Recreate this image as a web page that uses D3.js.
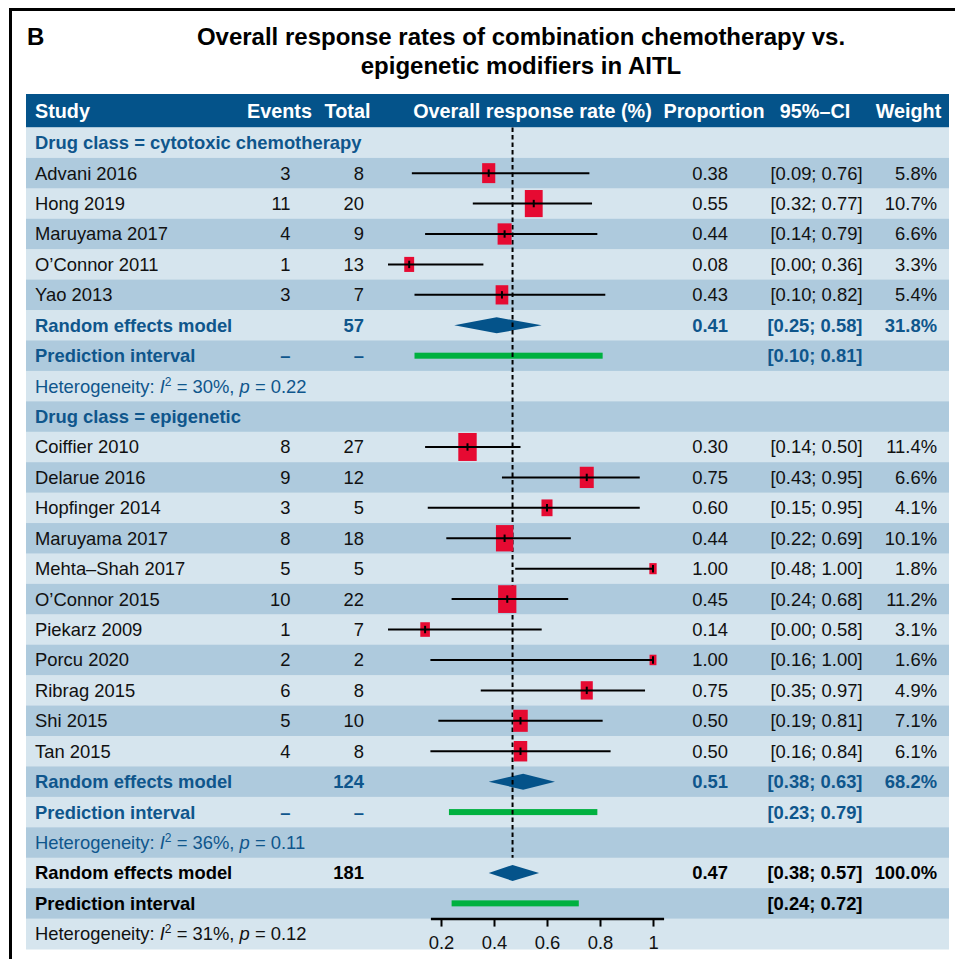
<!DOCTYPE html>
<html>
<head>
<meta charset="utf-8">
<script src="https://cdn.jsdelivr.net/npm/d3@7"></script>
<style>
  html, body { margin: 0; padding: 0; background: #fff; }
  svg { display: block; font-family: "Liberation Sans", Arial, Helvetica, sans-serif; }
</style>
</head>
<body>
<svg id="chart" width="955" height="959"></svg>
<script>
// ---- Study-level data: cytotoxic chemotherapy ----
const cytoStudies = ["Advani 2016", "Hong 2019", "Maruyama 2017", "O\u2019Connor 2011", "Yao 2013"];
const cytoEvents  = [3, 11, 4, 1, 3];
const cytoTotal   = [8, 20, 9, 13, 7];
const cytoProp    = [0.38, 0.55, 0.44, 0.08, 0.43];
const cytoLower   = [0.09, 0.32, 0.14, 0.00, 0.10];
const cytoUpper   = [0.76, 0.77, 0.79, 0.36, 0.82];
const cytoWeight  = [5.8, 10.7, 6.6, 3.3, 5.4];

// ---- Study-level data: epigenetic modifiers ----
const epiStudies = ["Coiffier 2010", "Delarue 2016", "Hopfinger 2014", "Maruyama 2017", "Mehta\u2013Shah 2017",
                    "O\u2019Connor 2015", "Piekarz 2009", "Porcu 2020", "Ribrag 2015", "Shi 2015", "Tan 2015"];
const epiEvents  = [8, 9, 3, 8, 5, 10, 1, 2, 6, 5, 4];
const epiTotal   = [27, 12, 5, 18, 5, 22, 7, 2, 8, 10, 8];
const epiProp    = [0.30, 0.75, 0.60, 0.44, 1.00, 0.45, 0.14, 1.00, 0.75, 0.50, 0.50];
const epiLower   = [0.14, 0.43, 0.15, 0.22, 0.48, 0.24, 0.00, 0.16, 0.35, 0.19, 0.16];
const epiUpper   = [0.50, 0.95, 0.95, 0.69, 1.00, 0.68, 0.58, 1.00, 0.97, 0.81, 0.84];
const epiWeight  = [11.4, 6.6, 4.1, 10.1, 1.8, 11.2, 3.1, 1.6, 4.9, 7.1, 6.1];

// ---- Subgroup random effects summaries ----
const groupNames      = ["cytotoxic chemotherapy", "epigenetic"];
const groupTotal      = [57, 124];
const groupProp       = [0.41, 0.51];
const groupLower      = [0.25, 0.38];
const groupUpper      = [0.58, 0.63];
const groupWeight     = [31.8, 68.2];
const groupPredLower  = [0.10, 0.23];
const groupPredUpper  = [0.81, 0.79];
const groupI2         = [30, 36];
const groupHetP       = [0.22, 0.11];

// ---- Overall random effects summary ----
const overallTotal     = [181];
const overallProp      = [0.47];
const overallCI        = [0.38, 0.57];
const overallWeight    = [100.0];
const overallPred      = [0.24, 0.72];
const overallI2        = [31];
const overallHetP      = [0.12];

// ---- Axis ----
const tickValues = [0.2, 0.4, 0.6, 0.8, 1];
const axisLimits = [0.16, 1.04];

// ---- Colours ----
const C = {
  header: "#04538a", light: "#d6e5ee", dark: "#aecadd",
  blue: "#0f568c", red: "#e60a32", green: "#00b140", diamond: "#04538a", ink: "#111"
};

// Build the row list in display order
const rows = [];
const studyBlocks = [
  {names: cytoStudies, ev: cytoEvents, n: cytoTotal, p: cytoProp, lo: cytoLower, hi: cytoUpper, w: cytoWeight},
  {names: epiStudies,  ev: epiEvents,  n: epiTotal,  p: epiProp,  lo: epiLower,  hi: epiUpper,  w: epiWeight}
];
studyBlocks.forEach((b, g) => {
  rows.push({type: "group", label: "Drug class = " + groupNames[g]});
  b.names.forEach((name, i) => rows.push({
    type: "study", label: name, events: b.ev[i], total: b.n[i],
    prop: b.p[i], lower: b.lo[i], upper: b.hi[i], weight: b.w[i]
  }));
  rows.push({type: "re", label: "Random effects model", total: groupTotal[g], prop: groupProp[g],
             lower: groupLower[g], upper: groupUpper[g], weight: groupWeight[g], color: C.blue});
  rows.push({type: "pi", label: "Prediction interval", lower: groupPredLower[g], upper: groupPredUpper[g],
             dashes: true, color: C.blue});
  rows.push({type: "het", i2: groupI2[g], p: groupHetP[g], color: C.blue});
});
rows.push({type: "re", label: "Random effects model", total: overallTotal[0], prop: overallProp[0],
           lower: overallCI[0], upper: overallCI[1], weight: overallWeight[0], color: "#000"});
rows.push({type: "pi", label: "Prediction interval", lower: overallPred[0], upper: overallPred[1],
           dashes: false, color: "#000"});
rows.push({type: "het", i2: overallI2[0], p: overallHetP[0], color: "#111"});

// ---- Layout ----
const svg = d3.select("#chart");
const tableLeft = 26, tableRight = 949;
const headerTop = 94, headerBottom = 127.5, tableBottom = 949;
const fs = 18.4;

const y = d3.scaleBand().domain(d3.range(rows.length)).range([headerBottom, tableBottom]);
const x = d3.scaleLinear().domain([0, 1]).range([388, 653]);
const boxW = d3.scaleSqrt().domain([0, d3.max(cytoWeight.concat(epiWeight))]).range([0, 18.4]);
const boxAspect = 1.52;

const col = {study: 35, events: 290.5, total: 364, prop: 728, ci: 862.5, weight: 937};
const fmt2 = d3.format(".2f");
const fmtW = v => d3.format(".1f")(v) + "%";
const fmtCI = (a, b) => "[" + fmt2(a) + "; " + fmt2(b) + "]";

// Outer frame
svg.append("rect").attr("x", 10.5).attr("y", 9.5).attr("width", 1000).attr("height", 1000)
  .attr("fill", "none").attr("stroke", "#000").attr("stroke-width", 3);

// Panel letter and title
svg.append("text").attr("x", 27).attr("y", 45).attr("font-size", 24).attr("font-weight", "bold")
  .attr("fill", "#000").text("B");
const titleLines = ["Overall response rates of combination chemotherapy vs.", "epigenetic modifiers in AITL"];
svg.append("g").selectAll("text").data(titleLines).join("text")
  .attr("x", 521).attr("y", (d, i) => 45 + i * 28.5)
  .attr("text-anchor", "middle").attr("font-size", 24).attr("font-weight", "bold").attr("fill", "#000")
  .text(d => d);

// Header bar
svg.append("rect").attr("x", tableLeft).attr("y", headerTop).attr("width", tableRight - tableLeft)
  .attr("height", headerBottom - headerTop).attr("fill", C.header);
const headers = [
  {t: "Study", x: 35, a: "start"},
  {t: "Events", x: 279.5, a: "middle"},
  {t: "Total", x: 347.5, a: "middle"},
  {t: "Overall response rate (%)", x: 532.5, a: "middle"},
  {t: "Proportion", x: 714, a: "middle"},
  {t: "95%\u2013CI", x: 815, a: "middle"},
  {t: "Weight", x: 908.5, a: "middle"}
];
svg.append("g").selectAll("text").data(headers).join("text")
  .attr("x", d => d.x).attr("y", 117.5).attr("text-anchor", d => d.a)
  .attr("font-size", 19.8).attr("font-weight", "bold").attr("fill", "#fff").text(d => d.t);

// Row stripes
svg.append("g").selectAll("rect").data(rows).join("rect")
  .attr("x", tableLeft).attr("y", (d, i) => y(i)).attr("width", tableRight - tableLeft)
  .attr("height", y.bandwidth() + 0.5).attr("fill", (d, i) => i % 2 === 0 ? C.light : C.dark);

// Row text
const textG = svg.append("g").attr("font-size", fs);
rows.forEach((r, i) => {
  const cy = y(i) + y.bandwidth() / 2 + 0.35 * fs;
  const add = (str, xx, anchor, opts = {}) => textG.append("text")
    .attr("x", xx).attr("y", cy).attr("text-anchor", anchor)
    .attr("font-weight", opts.bold ? "bold" : null)
    .attr("fill", opts.color || C.ink).text(str);
  if (r.type === "group") {
    add(r.label, col.study, "start", {bold: true, color: C.blue});
  } else if (r.type === "study") {
    add(r.label, col.study, "start");
    add(r.events, col.events, "end");
    add(r.total, col.total, "end");
    add(fmt2(r.prop), col.prop, "end");
    add(fmtCI(r.lower, r.upper), col.ci, "end");
    add(fmtW(r.weight), col.weight, "end");
  } else if (r.type === "re") {
    const o = {bold: true, color: r.color};
    add(r.label, col.study, "start", o);
    add(r.total, col.total, "end", o);
    add(fmt2(r.prop), col.prop, "end", o);
    add(fmtCI(r.lower, r.upper), col.ci, "end", o);
    add(fmtW(r.weight), col.weight, "end", o);
  } else if (r.type === "pi") {
    const o = {bold: true, color: r.color};
    add(r.label, col.study, "start", o);
    if (r.dashes) {
      add("\u2013", col.events, "end", o);
      add("\u2013", col.total, "end", o);
    }
    add(fmtCI(r.lower, r.upper), col.ci, "end", o);
  } else if (r.type === "het") {
    const t = textG.append("text").attr("x", col.study).attr("y", cy).attr("fill", r.color);
    t.append("tspan").text("Heterogeneity: ");
    t.append("tspan").attr("font-style", "italic").text("I");
    t.append("tspan").attr("font-size", 12).attr("dy", -7).text("2");
    t.append("tspan").attr("dy", 7).text(" = " + r.i2 + "%, ");
    t.append("tspan").attr("font-style", "italic").text("p");
    t.append("tspan").text(" = " + fmt2(r.p));
  }
});

// ---- Forest plot marks ----
const plot = svg.append("g");
const mid = i => y(i) + y.bandwidth() / 2;
const studyIdx = rows.map((r, i) => r.type === "study" ? i : -1).filter(i => i >= 0);
const reIdx = rows.map((r, i) => r.type === "re" ? i : -1).filter(i => i >= 0);
const piIdx = rows.map((r, i) => r.type === "pi" ? i : -1).filter(i => i >= 0);

// Pooled estimate diamonds
plot.append("g").selectAll("path").data(reIdx).join("path")
  .attr("d", i => {
    const r = rows[i], c = mid(i), h = 8;
    return `M${x(r.lower)},${c}L${x(r.prop)},${c - h}L${x(r.upper)},${c}L${x(r.prop)},${c + h}Z`;
  })
  .attr("fill", C.diamond);

// Prediction interval bars
plot.append("g").selectAll("rect").data(piIdx).join("rect")
  .attr("x", i => x(rows[i].lower)).attr("width", i => x(rows[i].upper) - x(rows[i].lower))
  .attr("y", i => mid(i) - 3).attr("height", 6).attr("fill", C.green);

// Reference line at the overall estimate
const lastRe = reIdx[reIdx.length - 1];
plot.append("line").attr("x1", x(overallProp[0])).attr("x2", x(overallProp[0]))
  .attr("y1", headerBottom).attr("y2", y(lastRe))
  .attr("stroke", "#000").attr("stroke-width", 2).attr("stroke-dasharray", "4.5,3");

// Weighted study boxes
plot.append("g").selectAll("rect").data(studyIdx).join("rect")
  .attr("x", i => x(rows[i].prop) - boxW(rows[i].weight) / 2)
  .attr("width", i => boxW(rows[i].weight))
  .attr("y", i => mid(i) - boxW(rows[i].weight) * boxAspect / 2)
  .attr("height", i => boxW(rows[i].weight) * boxAspect)
  .attr("fill", C.red);

// Confidence interval lines, drawn across the boxes
plot.append("g").selectAll("line").data(studyIdx).join("line")
  .attr("x1", i => x(rows[i].lower)).attr("x2", i => x(rows[i].upper))
  .attr("y1", mid).attr("y2", mid).attr("stroke", "#000").attr("stroke-width", 2);

// Point estimate ticks
plot.append("g").selectAll("line").data(studyIdx).join("line")
  .attr("x1", i => x(rows[i].prop)).attr("x2", i => x(rows[i].prop))
  .attr("y1", i => mid(i) - 3.7).attr("y2", i => mid(i) + 3.7)
  .attr("stroke", "#000").attr("stroke-width", 2);

// x axis
const axisScale = d3.scaleLinear().domain(axisLimits).range(axisLimits.map(x));
const axisG = svg.append("g").attr("transform", `translate(0,${tableBottom - y.bandwidth()})`)
  .call(d3.axisBottom(axisScale).tickValues(tickValues).tickFormat(d3.format("~g"))
        .tickSize(8).tickSizeOuter(0).tickPadding(9));
axisG.select(".domain").attr("stroke", "#000").attr("stroke-width", 2.5);
axisG.selectAll(".tick line").attr("stroke", "#000").attr("stroke-width", 2);
axisG.selectAll(".tick text").attr("font-size", fs).attr("fill", C.ink)
  .attr("font-family", "\"Liberation Sans\", Arial, Helvetica, sans-serif");
</script>
</body>
</html>
